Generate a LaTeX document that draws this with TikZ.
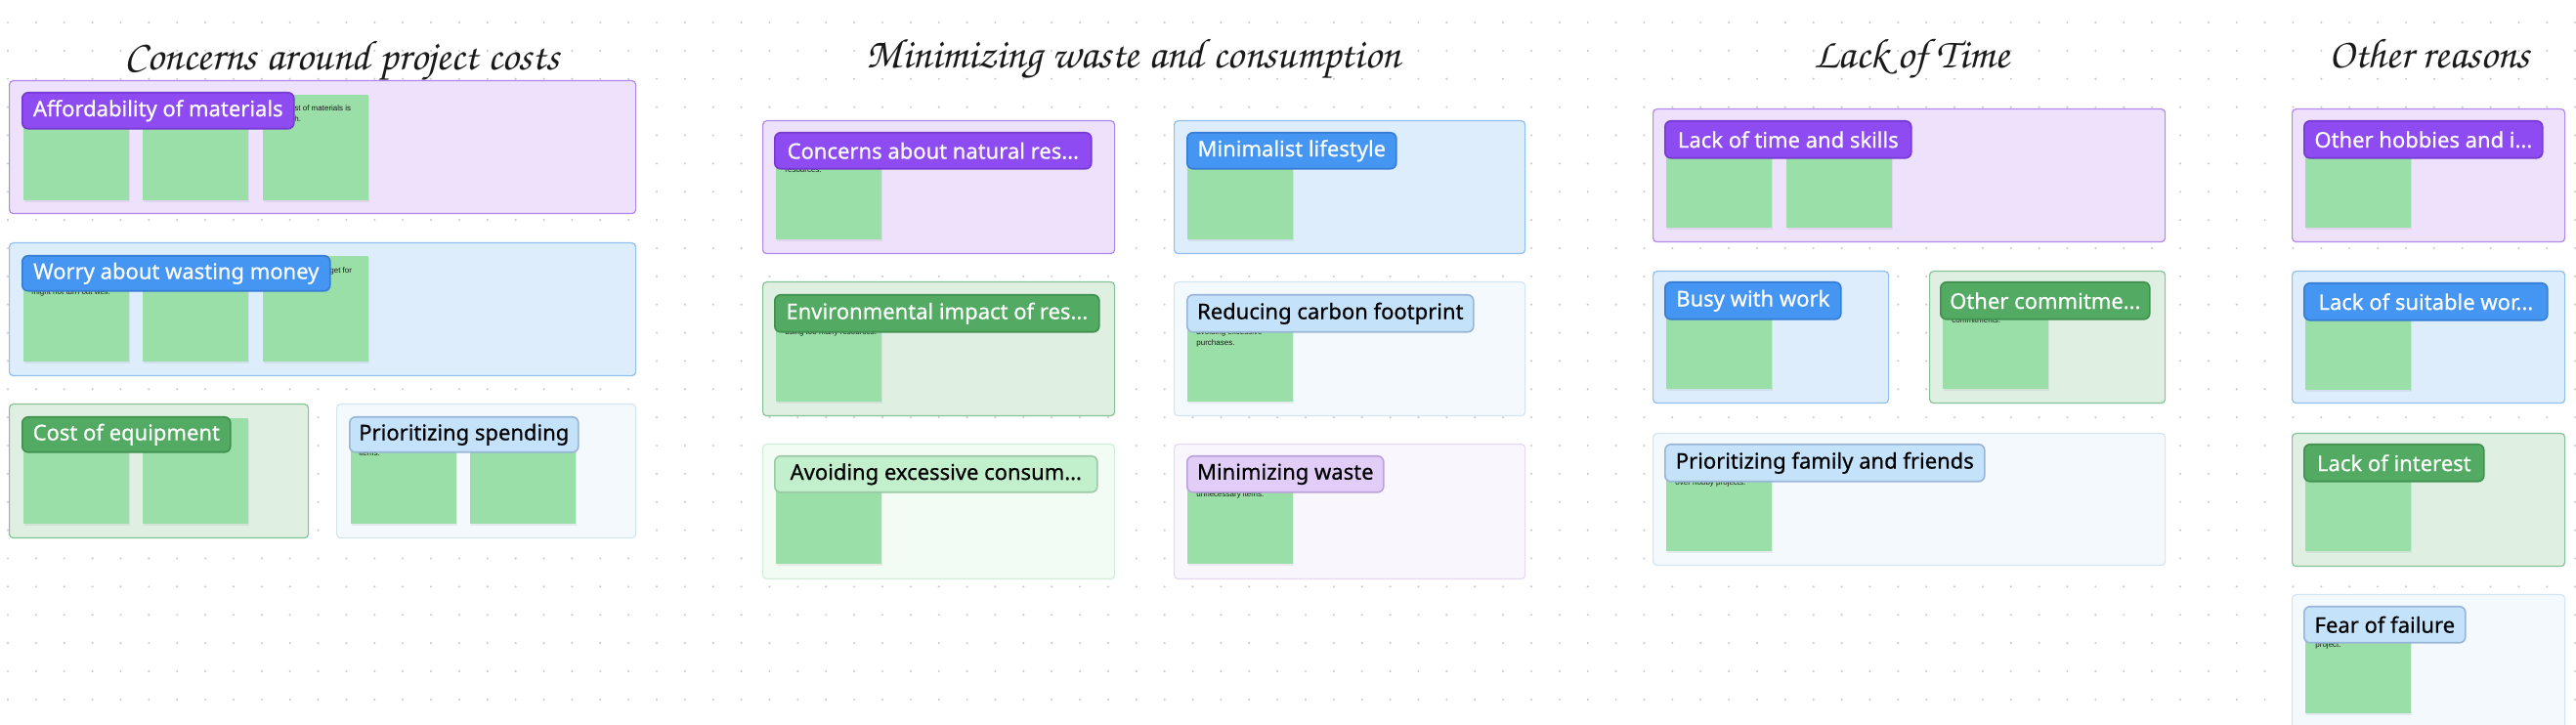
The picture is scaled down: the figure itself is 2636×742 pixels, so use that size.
\documentclass[tikz,border=0pt]{standalone}
\usepackage[T1]{fontenc}
\usepackage{fontspec}
\setmainfont{Noto Sans}
\newfontfamily\labfont{Noto Sans}[FakeBold=0.6]
\newfontfamily\fragfont{Liberation Sans}
\usetikzlibrary{shadows}
\definecolor{dotc}{HTML}{CCCCCC}
\definecolor{note}{HTML}{9ADFA7}
\definecolor{pLab}{HTML}{8F4BF2}\definecolor{pLabB}{HTML}{7639D2}
\definecolor{pFr}{HTML}{EDE1FC}\definecolor{pFrB}{HTML}{B088EA}
\definecolor{bLab}{HTML}{4595F3}\definecolor{bLabB}{HTML}{367CD3}
\definecolor{bFr}{HTML}{DDEDFC}\definecolor{bFrB}{HTML}{8FC0EE}
\definecolor{gLab}{HTML}{52AA63}\definecolor{gLabB}{HTML}{41904F}
\definecolor{gFr}{HTML}{DFF0E3}\definecolor{gFrB}{HTML}{84C393}
\definecolor{lbLab}{HTML}{C5E2FB}\definecolor{lbLabB}{HTML}{98B4D6}
\definecolor{lbFr}{HTML}{F4F9FE}\definecolor{lbFrB}{HTML}{D2E5F5}
\definecolor{lgLab}{HTML}{C2F0CC}\definecolor{lgLabB}{HTML}{9CC8A6}
\definecolor{lgFr}{HTML}{F2FCF4}\definecolor{lgFrB}{HTML}{CFF0D7}
\definecolor{lpLab}{HTML}{E1CDF8}\definecolor{lpLabB}{HTML}{BBA3DA}
\definecolor{lpFr}{HTML}{F9F6FE}\definecolor{lpFrB}{HTML}{E5D9F7}
\definecolor{ink}{HTML}{1A1A1A}
\newcommand\hand{\fontsize{21.5}{25}\usefont{T1}{pzc}{m}{it}}
\newcommand\frm[6]{\node[frame,#2,minimum width={(#5-#3)*0.5pt},minimum height={(#6-#4)*0.5pt},anchor=north west] (#1) at (#3,#4) {};}
\newcommand\lab[7]{\node[labl,#2,minimum width={(#5-#3)*0.5pt},minimum height={(#6-#4)*0.5pt},anchor=north west] (#1) at (#3,#4) {#7};}
\newcommand\sticky[3]{\node[stickynote,anchor=north west] (#1) at (#2,#3) {};}
\newcommand\frag[4]{\node[fragtext,anchor=west] (#1) at (#2,#3) {#4};}
\begin{document}
\begin{tikzpicture}[x=0.5pt,y=-0.5pt,
  frame/.style={rectangle,rounded corners=2pt,line width=0.6pt,inner sep=0pt},
  fP/.style={fill=pFr,draw=pFrB},
  fB/.style={fill=bFr,draw=bFrB},
  fG/.style={fill=gFr,draw=gFrB},
  fLB/.style={fill=lbFr,draw=lbFrB},
  fLG/.style={fill=lgFr,draw=lgFrB},
  fLP/.style={fill=lpFr,draw=lpFrB},
  labl/.style={rectangle,rounded corners=3pt,line width=0.8pt,inner sep=0pt,font=\labfont\fontsize{11}{13}\selectfont},
  lP/.style={fill=pLab,draw=pLabB,text=white},
  lB/.style={fill=bLab,draw=bLabB,text=white},
  lG/.style={fill=gLab,draw=gLabB,text=white},
  lLB/.style={fill=lbLab,draw=lbLabB,text=black},
  lLG/.style={fill=lgLab,draw=lgLabB,text=black},
  lLP/.style={fill=lpLab,draw=lpLabB,text=black},
  stickynote/.style={rectangle,fill=note,minimum width=54pt,minimum height=54pt,inner sep=0pt,
    drop shadow={opacity=0.12,shadow xshift=0.4pt,shadow yshift=-1pt}},
  fragtext/.style={inner sep=0pt,text=ink,font=\fragfont\fontsize{4}{5}\selectfont},
  title/.style={anchor=base,text=ink,font=\hand}]
\useasboundingbox (0,0) rectangle (2636,742);
\clip (0,0) rectangle (2636,742);
\fill[white] (0,0) rectangle (2636,742);
\foreach \i in {0,...,91}{\foreach \j in {0,...,25}{\fill[dotc] ({8+28.87*\i},{23+28.87*\j}) circle[radius=0.6pt];}}
% titles
\node[title] (t1) at (350,72) {Concerns around project costs};
\node[title] (t2) at (1160,70) {Minimizing waste and consumption};
\node[title] (t3) at (1956,70) {Lack of Time};
\node[title] (t4) at (2486,70) {Other reasons};
% frames
\frm{f1}{fP}{9}{82}{650}{218}
\frm{f2}{fB}{9}{248}{650}{384}
\frm{f3}{fG}{9}{413}{315}{550}
\frm{f4}{fLB}{344}{413}{650}{550}
\frm{fa}{fP}{780}{123}{1140}{259}
\frm{fb}{fB}{1201}{123}{1560}{259}
\frm{fc}{fG}{780}{288}{1140}{425}
\frm{fd}{fLB}{1201}{288}{1560}{425}
\frm{fe}{fLG}{780}{454}{1140}{592}
\frm{ff}{fLP}{1201}{454}{1560}{592}
\frm{fg}{fP}{1691}{111}{2215}{247}
\frm{fh}{fB}{1691}{277}{1932}{412}
\frm{fi}{fG}{1974}{277}{2215}{412}
\frm{fj}{fLB}{1691}{443}{2215}{578}
\frm{fk}{fP}{2345}{111}{2624}{247}
\frm{fl}{fB}{2345}{277}{2624}{412}
\frm{fm}{fG}{2345}{443}{2624}{579}
\frm{fn}{fLB}{2345}{608}{2624}{770}
% sticky notes
\sticky{n11}{24}{97}\sticky{n12}{146}{97}\sticky{n13}{269}{97}
\sticky{n21}{24}{262}\sticky{n22}{146}{262}\sticky{n23}{269}{262}
\sticky{n31}{24}{428}\sticky{n32}{146}{428}
\sticky{n41}{359}{428}\sticky{n42}{481}{428}
\sticky{na}{794}{137}\sticky{nb}{1215}{137}
\sticky{nc}{794}{303}\sticky{nd}{1215}{303}
\sticky{ne}{794}{469}\sticky{nf}{1215}{469}
\sticky{ng1}{1705}{125}\sticky{ng2}{1828}{125}
\sticky{nh}{1705}{290}\sticky{ni}{1988}{290}
\sticky{nj}{1705}{456}
\sticky{nk}{2359}{125}\sticky{nl}{2359}{291}\sticky{nm}{2359}{456}\sticky{nn}{2359}{622}
% visible fragments of note texts
\frag{x1}{301}{111}{st of materials is}
\frag{x2}{301}{122}{h.}
\frag{x3}{337}{277}{get for}
\frag{x4}{32}{299}{might not turn out well.}
\frag{x5}{367}{464}{items.}
\frag{x6}{803}{174}{resources.}
\frag{x7}{803}{340}{using too many resources.}
\frag{x8}{1224}{340}{avoiding excessive}
\frag{x9}{1224}{351}{purchases.}
\frag{x10}{1224}{506}{unnecessary items.}
\frag{x11}{1997}{328}{commitments.}
\frag{x12}{1714}{494}{over hobby projects.}
\frag{x13}{2369}{660}{project.}
% labels
\lab{l1}{lP}{22}{94}{300}{131}{Affordability of materials}
\lab{l2}{lB}{22}{261}{337}{297}{Worry about wasting money}
\lab{l3}{lG}{22}{426}{235}{462}{Cost of equipment}
\lab{l4}{lLB}{357}{426}{591}{462}{Prioritizing spending}
\lab{la}{lP}{792}{135}{1116}{172}{Concerns about natural res...}
\lab{lb}{lB}{1214}{135}{1428}{172}{Minimalist lifestyle}
\lab{lc}{lG}{792}{301}{1124}{339}{Environmental impact of res...}
\lab{ld}{lLB}{1214}{301}{1507}{339}{Reducing carbon footprint}
\lab{le}{lLG}{792}{466}{1122}{503}{Avoiding excessive consum...}
\lab{lf}{lLP}{1214}{466}{1415}{503}{Minimizing waste}
\lab{lg}{lP}{1703}{123}{1955}{161}{Lack of time and skills}
\lab{lh}{lB}{1703}{288}{1883}{326}{Busy with work}
\lab{li}{lG}{1985}{288}{2199}{326}{Other commitme...}
\lab{lj}{lLB}{1703}{454}{2030}{492}{Prioritizing family and friends}
\lab{lk}{lP}{2357}{123}{2601}{161}{Other hobbies and i...}
\lab{ll}{lB}{2357}{289}{2606}{327}{Lack of suitable wor...}
\lab{lm}{lG}{2357}{454}{2541}{492}{Lack of interest}
\lab{ln}{lLB}{2357}{620}{2522}{657}{Fear of failure}
\end{tikzpicture}
\end{document}
